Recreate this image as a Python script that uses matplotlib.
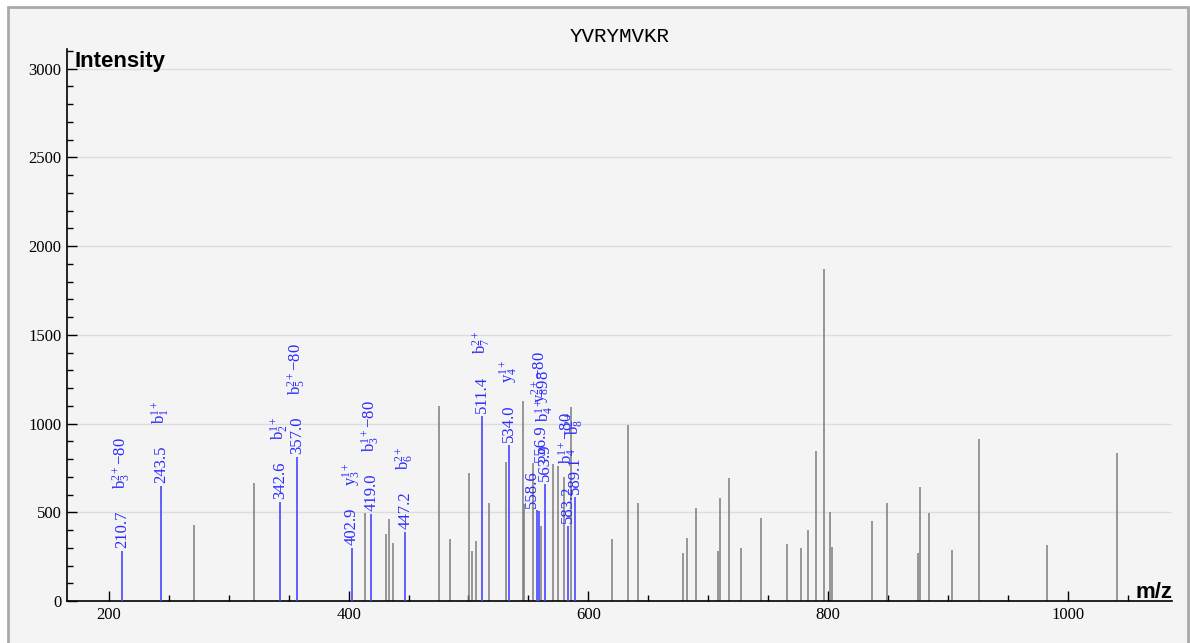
import matplotlib
matplotlib.use('Agg')
import matplotlib.pyplot as plt
from matplotlib.ticker import MultipleLocator
from matplotlib.patches import Rectangle

# ---------------- data ----------------
title = "YVRYMVKR"

gray_mz = [270.7, 321.0, 413.9, 431.3, 433.4, 437.0, 475.0, 484.8, 500.1, 502.9,
           506.5, 517.1, 531.5, 545.1, 546.4, 553.9, 560.3, 570.3, 574.4, 579.8,
           585.9, 620.1, 633.3, 641.3, 679.0, 682.2, 690.1, 708.3, 710.2, 717.3,
           727.2, 743.8, 766.1, 777.3, 783.1, 789.7, 796.5, 801.9, 803.5, 836.7,
           848.8, 875.3, 876.6, 884.6, 903.5, 925.8, 982.7, 1040.8]
gray_int = [429, 665, 496, 378, 462, 325, 1100, 350, 720, 282,
            338, 553, 782, 1128, 545, 776, 425, 773, 763, 700,
            1092, 351, 992, 551, 272, 355, 523, 282, 579, 692,
            297, 466, 321, 301, 400, 844, 1870, 502, 305, 451,
            551, 272, 641, 498, 288, 914, 316, 833]

ion_mz = [210.7, 243.5, 342.6, 357.0, 402.9, 419.0, 447.2, 511.4, 534.0,
          556.9, 558.6, 563.9, 583.2, 589.1]
ion_int = [282, 648, 560, 814, 297, 489, 391, 1045, 880,
           515, 507, 658, 425, 588]
ion_num = ["210.7", "243.5", "342.6", "357.0", "402.9", "419.0", "447.2", "511.4",
           "534.0", "556.9", "558.6", "563.9", "583.2", "589.1"]
ion_name = ["b$_3^{2+}$−80", "b$_1^{1+}$", "b$_2^{1+}$", "b$_5^{2+}$−80", "y$_3^{1+}$",
            "b$_3^{1+}$−80", "b$_6^{2+}$", "b$_7^{2+}$", "y$_4^{1+}$",
            "y$_8^{2+}$−80", "", "b$_4^{1+}$−98", "b$_4^{1+}$−80", "b$_8^{2+}$"]

# label placement tweaks (pixels) for the crowded cluster
label_shift = {9: (4, 45), 10: (-7, 0)}

# ---------------- style ----------------
plt.rcParams['font.family'] = ['Liberation Serif', 'DejaVu Serif']
plt.rcParams['mathtext.fontset'] = 'custom'
plt.rcParams['mathtext.rm'] = 'Liberation Serif'
plt.rcParams['mathtext.it'] = 'Liberation Serif:italic'
plt.rcParams['mathtext.default'] = 'regular'

W, H = 1190, 643
fig = plt.figure(figsize=(W / 100, H / 100), dpi=100, facecolor='white')
fig.patches.append(Rectangle((8 / W, -0.05), 1180 / W, 1.05 - 7 / H,
                             transform=fig.transFigure, facecolor='#f4f4f4',
                             edgecolor='#a9a9a9', lw=2, zorder=-10))

ax = fig.add_axes([67 / W, 1 - 601 / H, (1172 - 67) / W, (601 - 49) / H])
ax.set_facecolor('none')
ax.set_xlim(165, 1087)
ax.set_ylim(0, 3110)

ax.vlines(gray_mz, 0, gray_int, color='#7c7c7c', lw=1.1, zorder=2)
ax.vlines(ion_mz, 0, ion_int, color='#4646ff', lw=1.2, zorder=3)

lab_color = '#2a2aff'
for i, (mz, it, num, name) in enumerate(zip(ion_mz, ion_int, ion_num, ion_name)):
    dx, dy = label_shift.get(i, (0, 0))
    ax.annotate(num, (mz, it), xytext=(dx, 3 + dy), textcoords='offset pixels',
                rotation=90, ha='center', va='bottom', fontsize=12, color=lab_color,
                zorder=4)
    if name:
        ax.annotate(name, (mz, it), xytext=(dx, 62 + dy), textcoords='offset pixels',
                    rotation=90, ha='center', va='bottom', fontsize=12, color=lab_color,
                    zorder=4)

for s in ['top', 'right']:
    ax.spines[s].set_visible(False)
for s in ['left', 'bottom']:
    ax.spines[s].set_linewidth(1.2)
    ax.spines[s].set_color('black')

ax.xaxis.set_major_locator(MultipleLocator(200))
ax.xaxis.set_minor_locator(MultipleLocator(50))
ax.yaxis.set_major_locator(MultipleLocator(500))
ax.yaxis.set_minor_locator(MultipleLocator(100))
ax.tick_params(which='major', direction='in', length=7.2, width=1, labelsize=12, pad=4)
ax.tick_params(which='minor', direction='in', length=4.3, width=1)
ax.yaxis.grid(True, which='major', color='#dddddd', lw=1)
ax.set_axisbelow(True)

fig.text(75 / W, 1 - 62 / H, "Intensity", family='Liberation Sans', weight='bold',
         fontsize=16, ha='left', va='center')
fig.text(1172 / W, 1 - 598 / H, "m/z", family='Liberation Sans', weight='bold',
         fontsize=16, ha='right', va='baseline')
fig.text(620 / W, 1 - 37 / H, title, family='Liberation Mono', fontsize=15,
         ha='center', va='center')

fig.savefig('out.png', dpi=100, facecolor=fig.get_facecolor())
